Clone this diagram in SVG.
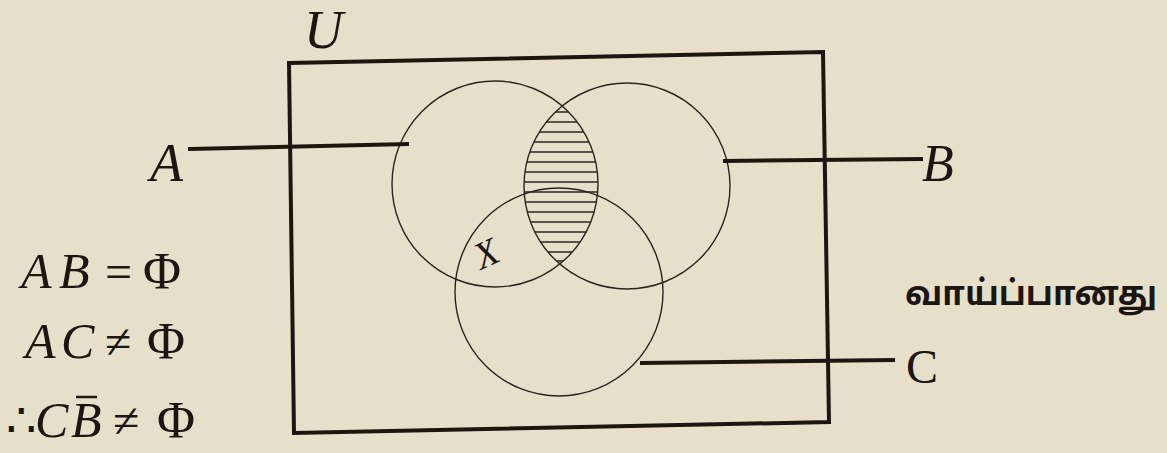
<svg xmlns="http://www.w3.org/2000/svg" width="1167" height="453" viewBox="0 0 1167 453">
<style>
.bg{fill:#e6dfca}
.thick{fill:none;stroke:#1c1612;stroke-width:4;stroke-linecap:square}
.circ{fill:none;stroke:#2a2420;stroke-width:1.4}
.hatch{stroke:#2a2420;stroke-width:1.6}
.it{font-family:"Liberation Serif","Times New Roman",serif;font-style:italic;fill:#1c1612}
.rm{font-family:"Liberation Serif","Times New Roman",serif;fill:#1c1612}
.ta{font-family:"Noto Sans Tamil","Noto Sans","Lohit Tamil",sans-serif;font-weight:bold;fill:#1c1612}
</style>
<defs>
<clipPath id="clipA"><circle cx="495" cy="184" r="103"/></clipPath>
<clipPath id="clipB"><circle cx="627" cy="186" r="103"/></clipPath>
</defs>
<rect class="bg" x="0" y="0" width="1167" height="453"/>

<g id="universe">
<polygon class="thick" points="289,63 823,52 829,422 294,433"/>
<text class="it" x="304" y="48" font-size="54">U</text>
</g>

<g id="setA">
<circle class="circ" cx="495" cy="184" r="103"/>
<text class="it" x="150" y="181" font-size="54">A</text>
</g>

<g id="setB">
<circle class="circ" cx="627" cy="186" r="103"/>
<text class="it" x="922" y="181" font-size="52">B</text>
</g>

<g id="setC">
<circle class="circ" cx="559" cy="292" r="104"/>
<text class="rm" x="906" y="383" font-size="48">C</text>
</g>

<g id="shaded-AB">
<g clip-path="url(#clipA)"><g clip-path="url(#clipB)">
<line class="hatch" x1="500" y1="112" x2="620" y2="112"/>
<line class="hatch" x1="500" y1="122" x2="620" y2="122"/>
<line class="hatch" x1="500" y1="132" x2="620" y2="132"/>
<line class="hatch" x1="500" y1="142" x2="620" y2="142"/>
<line class="hatch" x1="500" y1="152" x2="620" y2="152"/>
<line class="hatch" x1="500" y1="162" x2="620" y2="162"/>
<line class="hatch" x1="500" y1="172" x2="620" y2="172"/>
<line class="hatch" x1="500" y1="182" x2="620" y2="182"/>
<line class="hatch" x1="500" y1="192" x2="620" y2="192"/>
<line class="hatch" x1="500" y1="202" x2="620" y2="202"/>
<line class="hatch" x1="500" y1="212" x2="620" y2="212"/>
<line class="hatch" x1="500" y1="222" x2="620" y2="222"/>
<line class="hatch" x1="500" y1="232" x2="620" y2="232"/>
<line class="hatch" x1="500" y1="242" x2="620" y2="242"/>
<line class="hatch" x1="500" y1="252" x2="620" y2="252"/>
<line class="hatch" x1="500" y1="261" x2="620" y2="261"/>
</g></g>
</g>

<g id="regionX">
<text class="it" x="0" y="0" font-size="38" transform="translate(481,270) rotate(-25)">X</text>
</g>

<g id="connectors">
<line class="thick" x1="190" y1="149" x2="407" y2="144"/>
<line class="thick" x1="725" y1="161" x2="921" y2="159"/>
<line class="thick" x1="642" y1="363" x2="893" y2="360"/>
</g>

<g id="equations">
<text class="it" x="21" y="288" font-size="50">A</text>
<text class="it" x="59" y="288" font-size="50">B</text>
<text class="rm" x="105" y="288" font-size="48">=</text>
<text class="rm" x="143" y="289" font-size="52">Φ</text>

<text class="it" x="25" y="358" font-size="50">A</text>
<text class="it" x="61" y="358" font-size="50">C</text>
<text class="rm" x="105" y="358" font-size="48">≠</text>
<text class="rm" x="147" y="359" font-size="52">Φ</text>

<text class="rm" x="6" y="437" font-size="48">∴</text>
<text class="it" x="35" y="437" font-size="50">C</text>
<text class="it" x="71" y="437" font-size="50">B</text>
<line x1="76" y1="397" x2="97" y2="397" stroke="#1c1612" stroke-width="2.5"/>
<text class="rm" x="113" y="437" font-size="48">≠</text>
<text class="rm" x="157" y="438" font-size="52">Φ</text>
</g>

<g id="note">
<text class="ta" x="905" y="305" font-size="34" textLength="252" lengthAdjust="spacingAndGlyphs">வாய்ப்பானது</text>
</g>
</svg>
